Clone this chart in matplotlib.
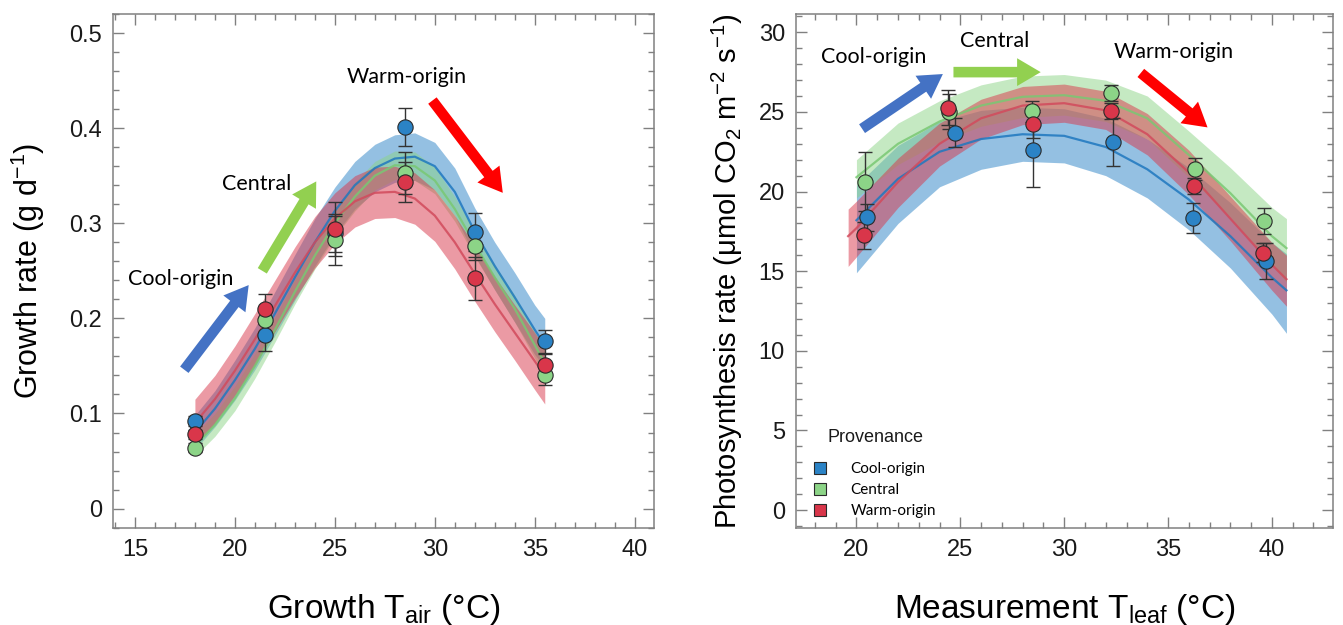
import matplotlib
matplotlib.use("Agg")
import matplotlib.pyplot as plt
from matplotlib.patches import Patch
from matplotlib.ticker import MultipleLocator

plt.rcParams['font.family'] = ['Liberation Sans', 'DejaVu Sans']
plt.rcParams['mathtext.fontset'] = 'custom'
plt.rcParams['mathtext.rm'] = 'Liberation Sans'
plt.rcParams['mathtext.it'] = 'Liberation Sans:italic'

provenances = ['Cool-origin', 'Central', 'Warm-origin']
colors = {'Cool-origin': '#2b83c6', 'Central': '#8cd487', 'Warm-origin': '#d9364a'}
line_colors = {'Cool-origin': '#1f78bf', 'Central': '#79c873', 'Warm-origin': '#d24a5c'}

# ---- growth rate (left panel) ----
growth_temp = [18, 21.5, 25, 28.5, 32, 35.5]
growth_mean = {
    'Cool-origin': [0.092, 0.183, 0.290, 0.401, 0.291, 0.176],
    'Central': [0.064, 0.198, 0.282, 0.353, 0.276, 0.140],
    'Warm-origin': [0.078, 0.210, 0.294, 0.343, 0.242, 0.151],
}
growth_err = {
    'Cool-origin': [0.005, 0.017, 0.020, 0.020, 0.020, 0.012],
    'Central': [0.005, 0.012, 0.026, 0.022, 0.015, 0.010],
    'Warm-origin': [0.005, 0.016, 0.028, 0.021, 0.023, 0.012],
}
growth_fit_t = [18, 19, 20, 21, 22, 23, 24, 25, 26, 27, 28, 29, 30, 31, 32, 33, 34, 35, 35.5]
growth_fit = {
    'Cool-origin': [0.080, 0.105, 0.135, 0.168, 0.205, 0.243, 0.280, 0.313, 0.340, 0.358,
                    0.368, 0.370, 0.360, 0.333, 0.291, 0.255, 0.222, 0.188, 0.172],
    'Central': [0.066, 0.088, 0.116, 0.150, 0.188, 0.228, 0.266, 0.300, 0.328, 0.350,
                0.361, 0.360, 0.345, 0.315, 0.278, 0.243, 0.210, 0.172, 0.153],
    'Warm-origin': [0.090, 0.115, 0.145, 0.178, 0.213, 0.248, 0.280, 0.305, 0.323, 0.332,
                    0.333, 0.326, 0.308, 0.280, 0.247, 0.215, 0.185, 0.155, 0.140],
}
growth_lo = {
    'Cool-origin': [0.062, 0.086, 0.114, 0.146, 0.182, 0.219, 0.255, 0.288, 0.315, 0.333,
                    0.343, 0.345, 0.335, 0.308, 0.266, 0.230, 0.196, 0.162, 0.148],
    'Central': [0.055, 0.076, 0.103, 0.137, 0.175, 0.215, 0.252, 0.286, 0.313, 0.335,
                0.346, 0.345, 0.331, 0.302, 0.265, 0.230, 0.196, 0.158, 0.139],
    'Warm-origin': [0.066, 0.090, 0.119, 0.151, 0.186, 0.221, 0.253, 0.278, 0.296, 0.305,
                    0.306, 0.299, 0.281, 0.252, 0.218, 0.186, 0.156, 0.125, 0.110],
}
growth_hi = {
    'Cool-origin': [0.098, 0.124, 0.156, 0.190, 0.228, 0.267, 0.305, 0.338, 0.365, 0.383,
                    0.393, 0.395, 0.385, 0.358, 0.316, 0.280, 0.248, 0.214, 0.200],
    'Central': [0.078, 0.100, 0.129, 0.163, 0.201, 0.241, 0.280, 0.314, 0.343, 0.365,
                0.376, 0.375, 0.359, 0.328, 0.291, 0.256, 0.224, 0.186, 0.167],
    'Warm-origin': [0.115, 0.140, 0.171, 0.205, 0.240, 0.275, 0.307, 0.332, 0.350, 0.359,
                    0.360, 0.353, 0.335, 0.308, 0.276, 0.244, 0.214, 0.185, 0.170],
}

# ---- photosynthesis rate (right panel) ----
photo_temp = {
    'Cool-origin': [20.53, 24.73, 28.52, 32.36, 36.19, 39.73],
    'Central': [20.41, 24.47, 28.46, 32.25, 36.31, 39.63],
    'Warm-origin': [20.37, 24.41, 28.52, 32.25, 36.25, 39.59],
}
photo_mean = {
    'Cool-origin': [18.38, 23.70, 22.63, 23.13, 18.33, 15.65],
    'Central': [20.63, 25.00, 25.03, 26.20, 21.40, 18.13],
    'Warm-origin': [17.25, 25.25, 24.25, 25.08, 20.33, 16.15],
}
photo_err = {
    'Cool-origin': [0.87, 0.92, 2.35, 1.50, 0.95, 1.15],
    'Central': [1.87, 1.10, 0.67, 0.50, 0.70, 0.82],
    'Warm-origin': [0.87, 1.10, 0.90, 0.50, 0.50, 0.60],
}
photo_fit_t = {
    'Cool-origin': [20, 22, 24, 26, 28, 30, 32, 34, 36, 38, 40, 40.7],
    'Central': [20, 22, 24, 26, 28, 30, 32, 34, 36, 38, 40, 40.7],
    'Warm-origin': [19.6, 20, 22, 24, 26, 28, 30, 32, 34, 36, 38, 40, 40.7],
}
photo_fit = {
    'Cool-origin': [18.2, 20.8, 22.5, 23.3, 23.6, 23.5, 22.8, 21.4, 19.5, 17.2, 14.6, 13.8],
    'Central': [20.9, 23.0, 24.4, 25.4, 25.95, 26.05, 25.7, 24.6, 22.3, 19.9, 17.2, 16.45],
    'Warm-origin': [17.2, 17.7, 20.6, 23.0, 24.6, 25.4, 25.55, 25.1, 23.6, 21.2, 18.3, 15.4, 14.5],
}
photo_lo = {
    'Cool-origin': [14.9, 18.0, 20.3, 21.4, 21.9, 21.8, 21.0, 19.6, 17.6, 15.2, 12.3, 11.1],
    'Central': [19.6, 21.7, 23.1, 24.1, 24.65, 24.8, 24.4, 23.3, 20.9, 18.4, 15.4, 14.3],
    'Warm-origin': [15.3, 15.9, 19.0, 21.6, 23.3, 24.2, 24.35, 23.9, 22.3, 19.8, 16.9, 13.8, 12.8],
}
photo_hi = {
    'Cool-origin': [20.4, 22.9, 24.4, 25.1, 25.3, 25.2, 24.6, 23.3, 21.5, 19.3, 16.8, 16.1],
    'Central': [22.0, 24.3, 25.7, 26.7, 27.25, 27.35, 27.0, 26.0, 23.8, 21.5, 19.0, 18.3],
    'Warm-origin': [18.9, 19.4, 22.1, 24.3, 25.8, 26.6, 26.75, 26.3, 24.9, 22.6, 19.7, 16.8, 16.0],
}

# annotation labels and arrows: (text x, text y), (tail x, tail y, tip x, tip y)
arrow_colors = {'Cool-origin': '#4472c4', 'Central': '#92d050', 'Warm-origin': '#ff0000'}
growth_notes = {
    'Cool-origin': ((17.3, 0.241), (17.47, 0.146, 20.69, 0.235)),
    'Central': ((21.09, 0.341), (21.37, 0.250, 24.07, 0.344)),
    'Warm-origin': ((28.59, 0.454), (29.88, 0.429, 33.40, 0.332)),
}
photo_notes = {
    'Cool-origin': ((20.82, 28.45), (20.27, 23.95, 24.16, 27.38)),
    'Central': ((26.66, 29.45), (24.67, 27.50, 28.87, 27.50)),
    'Warm-origin': ((35.29, 28.78), (33.69, 27.45, 36.90, 24.03)),
}


def draw_panel(ax, t_pts, means, errs, fit_t, fits, los, his, notes):
    for p in provenances:
        ft = fit_t[p] if isinstance(fit_t, dict) else fit_t
        ax.fill_between(ft, los[p], his[p], color=colors[p], alpha=0.5, lw=0, zorder=1)
    for p in provenances:
        ft = fit_t[p] if isinstance(fit_t, dict) else fit_t
        ax.plot(ft, fits[p], color=line_colors[p], lw=1.6, alpha=0.85, zorder=2)
    for p in provenances:
        tp = t_pts[p] if isinstance(t_pts, dict) else t_pts
        ax.errorbar(tp, means[p], yerr=errs[p], fmt='none', ecolor='#333333',
                    elinewidth=1, capsize=5, capthick=1, zorder=3)
    for p in provenances:
        tp = t_pts[p] if isinstance(t_pts, dict) else t_pts
        ax.plot(tp, means[p], 'o', ms=11, mfc=colors[p], mec='#2a2a2a', mew=0.8, zorder=4)
    for p in provenances:
        (tx, ty), (x0, y0, x1, y1) = notes[p]
        ax.text(tx, ty, p, ha='center', va='center', fontsize=15.5, family='Lato', zorder=6)
        ax.annotate('', xy=(x1, y1), xytext=(x0, y0),
                    arrowprops=dict(arrowstyle='simple,head_length=0.85,head_width=1.0,tail_width=0.38',
                                    mutation_scale=20, fc=arrow_colors[p], ec='none',
                                    shrinkA=0, shrinkB=0), zorder=6)


def style_axes(ax):
    for s in ax.spines.values():
        s.set_color('#808080')
        s.set_linewidth(1.1)
    ax.tick_params(which='both', direction='in', top=True, right=True, color='#808080')
    ax.tick_params(which='major', length=8, width=1, labelsize=17, pad=8, labelcolor='#1a1a1a')
    ax.tick_params(which='minor', length=4, width=1)


fig = plt.figure(figsize=(13.43, 6.25), dpi=100)
ax1 = fig.add_axes([0.0841, 0.1552, 0.4028, 0.8224])
ax2 = fig.add_axes([0.5927, 0.1552, 0.4000, 0.8224])

draw_panel(ax1, growth_temp, growth_mean, growth_err, growth_fit_t, growth_fit,
           growth_lo, growth_hi, growth_notes)
ax1.set_xlim(13.9, 40.96)
ax1.set_ylim(-0.0204, 0.520)
ax1.set_xticks([15, 20, 25, 30, 35, 40])
ax1.set_yticks([0, 0.1, 0.2, 0.3, 0.4, 0.5])
ax1.set_yticklabels(['0', '0.1', '0.2', '0.3', '0.4', '0.5'])
ax1.xaxis.set_minor_locator(MultipleLocator(1))
ax1.yaxis.set_minor_locator(MultipleLocator(0.02))
style_axes(ax1)
ax1.set_xlabel(r'Growth T$_{\mathrm{air}}$ (°C)', fontsize=24, labelpad=22)
ax1.set_ylabel(r'Growth rate (g d$^{\mathrm{-1}}$)', fontsize=22, labelpad=16)

draw_panel(ax2, photo_temp, photo_mean, photo_err, photo_fit_t, photo_fit,
           photo_lo, photo_hi, photo_notes)
ax2.set_xlim(17.09, 42.95)
ax2.set_ylim(-1.125, 31.15)
ax2.set_xticks([20, 25, 30, 35, 40])
ax2.set_yticks([0, 5, 10, 15, 20, 25, 30])
ax2.xaxis.set_minor_locator(MultipleLocator(1))
ax2.yaxis.set_minor_locator(MultipleLocator(1))
style_axes(ax2)
ax2.set_xlabel(r'Measurement T$_{\mathrm{leaf}}$ (°C)', fontsize=24, labelpad=22)
ax2.set_ylabel(r'Photosynthesis rate ($\mathrm{\mu}$mol CO$_{\mathrm{2}}$ m$^{\mathrm{-2}}$ s$^{\mathrm{-1}}$)',
               fontsize=21, labelpad=10)

# legend: title drawn separately so it can sit a bit apart from the entries
handles = [Patch(facecolor=colors[p], edgecolor='#2a2a2a', lw=0.8) for p in provenances]
ax2.legend(handles, provenances, loc='lower left', bbox_to_anchor=(0.008, -0.008),
           frameon=False, prop={'family': 'Lato', 'size': 11},
           handlelength=0.8, handleheight=0.8, handletextpad=1.6, labelspacing=0.45)
ax2.text(0.058, 0.177, 'Provenance', transform=ax2.transAxes, fontsize=13,
         ha='left', va='center', color='#1a1a1a')

fig.savefig('out.png', dpi=100)
